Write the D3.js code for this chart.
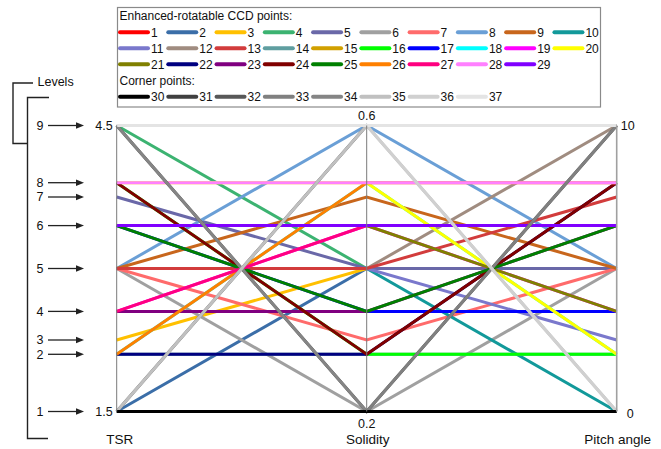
<!DOCTYPE html>
<html>
<head>
<meta charset="utf-8">
<script src="https://cdn.jsdelivr.net/npm/d3@7"></script>
<style>
  body { margin: 0; background: #fff; }
  svg { display: block; }
  text { font-family: "Liberation Sans", Arial, sans-serif; fill: #111; }
</style>
</head>
<body>
<svg id="chart" width="661" height="449"></svg>
<script>
// ---- Design points: 29 enhanced-rotatable CCD points (1-29) + 8 corner points (30-37)
const pointIds = d3.range(1, 38);

const tsrValues = [
  3, 1.5, 2.25, 4.5, 3.75, 3, 3, 3, 3, 3, 3, 3, 3,
  2.1, 2.55, 3.9, 3.45, 2.1, 2.55, 3.9, 3.45, 2.1, 2.55, 3.9, 3.45, 2.1, 2.55, 3.9, 3.45,
  1.5, 4.5, 1.5, 1.5, 4.5, 1.5, 4.5, 4.5
];
const solidityValues = [
  0.4, 0.4, 0.4, 0.4, 0.4, 0.2, 0.3, 0.6, 0.5, 0.4, 0.4, 0.4, 0.4,
  0.28, 0.34, 0.28, 0.34, 0.52, 0.46, 0.52, 0.46, 0.28, 0.34, 0.28, 0.34, 0.52, 0.46, 0.52, 0.46,
  0.2, 0.2, 0.6, 0.2, 0.2, 0.6, 0.6, 0.6
];
const pitchValues = [
  5, 5, 5, 5, 5, 5, 5, 5, 5, 0, 2.5, 10, 7.5,
  2, 3.5, 2, 3.5, 2, 3.5, 2, 3.5, 8, 6.5, 8, 6.5, 8, 6.5, 8, 6.5,
  0, 10, 10, 10, 0, 0, 0, 10
];

const pointColors = [
  "#ff0000", "#3b6ea8", "#ffc000", "#3cb371", "#6a68a8", "#a0a0a0", "#ff6b6b", "#6a9fd6", "#c8661c", "#12999a",
  "#7a78cc", "#a08c80", "#d23c3c", "#5f9ea0", "#d1a000", "#00ff00", "#0000ff", "#00ffff", "#ff00ff", "#ffff00",
  "#808000", "#000080", "#800080", "#800000", "#008000", "#ff8000", "#ff0080", "#ff80ff", "#8000ff",
  "#000000", "#404040", "#585858", "#808080", "#858585", "#c0c0c0", "#d0d0d0", "#e4e4e4"
];

const axisNames = ["TSR", "Solidity", "Pitch angle"];
const axisDomains = [[1.5, 4.5], [0.2, 0.6], [0, 10]];
const axisTickLabels = [["1.5", "4.5"], ["0.2", "0.6"], ["0", "10"]];

// nine coded levels, expressed on the TSR axis
const levelNumbers = [1, 2, 3, 4, 5, 6, 7, 8, 9];
const levelTsrValues = [1.5, 2.1, 2.25, 2.55, 3, 3.45, 3.75, 3.9, 4.5];

const legendGroups = [
  { title: "Enhanced-rotatable CCD points:", rows: [d3.range(1, 11), d3.range(11, 21), d3.range(21, 30)] },
  { title: "Corner points:", rows: [d3.range(30, 38)] }
];

// ---- Scales
const svg = d3.select("#chart");
const x = d3.scalePoint().domain(axisNames).range([116.7, 616.7]);
const yScales = axisDomains.map(d => d3.scaleLinear().domain(d).range([411.5, 125.5]));

const points = pointIds.map((id, i) => ({
  id,
  color: pointColors[i],
  values: [tsrValues[i], solidityValues[i], pitchValues[i]]
}));

// all-low and all-high corners go last so the frame edges stay crisp
const isEdgeCorner = p => p.values.every((v, k) => v === axisDomains[k][0]) ||
                         p.values.every((v, k) => v === axisDomains[k][1]);
const drawOrder = points.filter(p => !isEdgeCorner(p)).concat(points.filter(isEdgeCorner));

const line = d3.line()
  .x((v, k) => x(axisNames[k]))
  .y((v, k) => yScales[k](v));

svg.append("g")
  .selectAll("path")
  .data(drawOrder)
  .join("path")
  .attr("d", p => line(p.values))
  .attr("fill", "none")
  .attr("stroke", p => p.color)
  .attr("stroke-width", 3);

// ---- Axes
const axisG = svg.append("g");
axisNames.forEach((name, k) => {
  const ax = x(name);
  const ys = yScales[k];
  axisG.append("line")
    .attr("x1", ax).attr("x2", ax)
    .attr("y1", ys.range()[0]).attr("y2", ys.range()[1])
    .attr("stroke", k === 2 ? "#a0a0a0" : "#7a7a7a")
    .attr("stroke-width", k === 2 ? 1.6 : 1);

  const [lo, hi] = axisTickLabels[k];
  if (k === 0) {
    axisG.append("text").attr("x", ax - 4).attr("y", ys(axisDomains[k][1]) + 4.5)
      .attr("text-anchor", "end").attr("font-size", 12.5).text(hi);
    axisG.append("text").attr("x", ax - 4).attr("y", ys(axisDomains[k][0]) + 4.5)
      .attr("text-anchor", "end").attr("font-size", 12.5).text(lo);
  } else if (k === 1) {
    axisG.append("text").attr("x", ax).attr("y", ys(axisDomains[k][1]) - 5.5)
      .attr("text-anchor", "middle").attr("font-size", 12.5).text(hi);
    axisG.append("text").attr("x", ax).attr("y", ys(axisDomains[k][0]) + 16)
      .attr("text-anchor", "middle").attr("font-size", 12.5).text(lo);
  } else {
    axisG.append("text").attr("x", ax + 4).attr("y", ys(axisDomains[k][1]) + 4)
      .attr("text-anchor", "start").attr("font-size", 12.5).text(hi);
    axisG.append("text").attr("x", ax + 10).attr("y", ys(axisDomains[k][0]) + 6)
      .attr("text-anchor", "start").attr("font-size", 12.5).text(lo);
  }

  axisG.append("text")
    .attr("x", ax + (k === 0 ? 3 : 1)).attr("y", 443.5)
    .attr("text-anchor", "middle").attr("font-size", 13.5)
    .text(name);
});

// ---- Level markers on the left
const yT = yScales[0];
const levelG = svg.append("g");
levelG.append("path")
  .attr("d", "M33,83H13V143.5H27.5")
  .attr("fill", "none").attr("stroke", "#222").attr("stroke-width", 1.4);
levelG.append("path")
  .attr("d", `M49,97.5H27.5V438.5H48`)
  .attr("fill", "none").attr("stroke", "#222").attr("stroke-width", 1.4);
levelG.append("text").attr("x", 37.5).attr("y", 86.3).attr("font-size", 12.5).text("Levels");

levelNumbers.forEach((n, i) => {
  const yy = yT(levelTsrValues[i]);
  levelG.append("text").attr("x", 40).attr("y", yy + 4.2)
    .attr("text-anchor", "middle").attr("font-size", 12.5).attr("fill", "#222").text(n);
  levelG.append("line").attr("x1", 48).attr("x2", 77).attr("y1", yy).attr("y2", yy)
    .attr("stroke", "#222").attr("stroke-width", 1.3);
  levelG.append("path")
    .attr("d", `M76,${yy - 3.2}L84,${yy}L76,${yy + 3.2}Z`)
    .attr("fill", "#222");
});

// ---- Legend
const legend = svg.append("g");
legend.append("rect")
  .attr("x", 117.5).attr("y", 7.5).attr("width", 483).attr("height", 99.5)
  .attr("fill", "#fff").attr("stroke", "#8a8a8a").attr("stroke-width", 1.2);

const colStep = 48.27;
const rowYs = [[16, [32.3, 48.3, 64.2]], [80.7, [96.7]]];
legendGroups.forEach((g, gi) => {
  const [titleY, ys] = rowYs[gi];
  legend.append("text").attr("x", 119.5).attr("y", titleY + 4.3)
    .attr("font-size", 12).text(g.title);
  g.rows.forEach((row, ri) => {
    const yy = ys[ri];
    row.forEach((id, ci) => {
      const cx = 118.5 + ci * colStep;
      legend.append("line")
        .attr("x1", cx + 1.5).attr("x2", cx + 29.5).attr("y1", yy).attr("y2", yy)
        .attr("stroke", pointColors[id - 1]).attr("stroke-width", 4)
        .attr("stroke-linecap", "round");
      legend.append("text").attr("x", cx + 32.5).attr("y", yy + 4.3)
        .attr("font-size", 12).text(id);
    });
  });
});
</script>
</body>
</html>
